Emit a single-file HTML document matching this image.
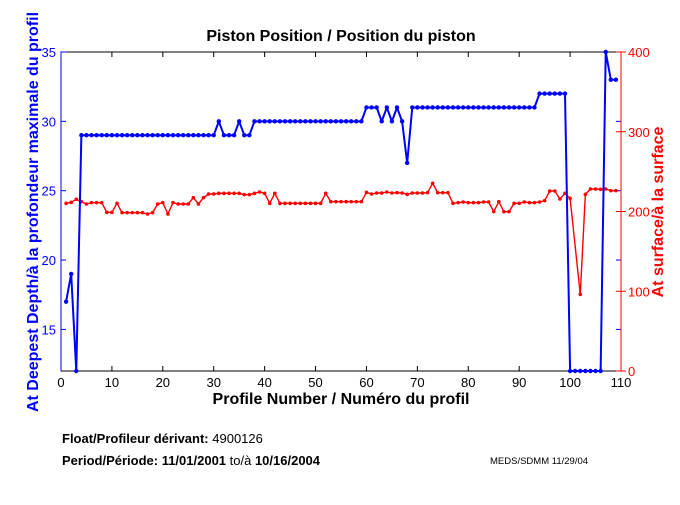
<!DOCTYPE html>
<html><head><meta charset="utf-8"><style>
body{margin:0;background:#fff;width:680px;height:500px;overflow:hidden}
svg text{font-family:"Liberation Sans",Arial,sans-serif}
</style></head><body>
<svg id="s" width="680" height="500" xmlns="http://www.w3.org/2000/svg">
<rect x="0" y="0" width="680" height="500" fill="#fff"/>
<rect x="61" y="52" width="560" height="319" fill="none" stroke="#000" stroke-width="1"/>
<g id="ticks"></g>
<g id="data"></g>
<text x="341" y="41" font-size="16" font-weight="bold" text-anchor="middle">Piston Position / Position du piston</text>
<text x="341" y="404" font-size="16" font-weight="bold" text-anchor="middle">Profile Number / Numéro du profil</text>
<text transform="translate(38,212) rotate(-90)" font-size="16" font-weight="bold" fill="#00f" text-anchor="middle">At Deepest Depth/à la profondeur maximale du profil</text>
<text transform="translate(663,212) rotate(-90)" font-size="16" font-weight="bold" fill="#f00" text-anchor="middle">At surface/à la surface</text>
<text x="62" y="443" font-size="13"><tspan font-weight="bold">Float/Profileur dérivant: </tspan> 4900126</text>
<text x="62" y="465" font-size="13" font-weight="bold">Period/Période:  11/01/2001  <tspan font-weight="normal">to/à</tspan>  10/16/2004</text>
<text x="490" y="464" font-size="9.5">MEDS/SDMM  11/29/04</text>
</svg>
<script>
var NS="http://www.w3.org/2000/svg";
function el(t,a,p){var e=document.createElementNS(NS,t);for(var k in a)e.setAttribute(k,a[k]);(p||document.getElementById('data')).appendChild(e);return e;}
var T=document.getElementById('ticks');
function X(p){return 61+p*560/110;}
function YL(v){return 371-(v-12)*319/23;}
function YR(v){return 371-v*319/400;}
for(var i=0;i<=110;i+=10){var x=X(i);
 el('line',{x1:x,y1:371,x2:x,y2:366,stroke:'#000'},T);el('line',{x1:x,y1:52,x2:x,y2:57,stroke:'#000'},T);
 el('text',{x:x,y:387,'font-size':13,'text-anchor':'middle'},T).textContent=i;}
for(var v=15;v<=35;v+=5){var y=YL(v);
 el('line',{x1:61,y1:y,x2:66,y2:y,stroke:'#00f'},T);el('line',{x1:621,y1:y,x2:616,y2:y,stroke:'#00f'},T);
 el('text',{x:56,y:y+5,'font-size':13,'text-anchor':'end',fill:'#00f'},T).textContent=v;}
el('line',{x1:61,y1:52,x2:61,y2:371,stroke:'#00f'},T);
el('line',{x1:621,y1:52,x2:621,y2:371,stroke:'#f00'},T);
for(var v=0;v<=400;v+=100){var y=YR(v);
 el('line',{x1:621,y1:y,x2:616,y2:y,stroke:'#f00'},T);el('line',{x1:621,y1:y,x2:626,y2:y,stroke:'#f00'},T);
 el('text',{x:628,y:y+5,'font-size':13,fill:'#f00'},T).textContent=v;}
var b=[17,19,12];for(i=4;i<=30;i++)b.push(29);b.push(30,29,29,29,30,29,29);
for(i=38;i<=59;i++)b.push(30);b.push(31,31,31,30,31,30,31,30,27);
for(i=69;i<=93;i++)b.push(31);for(i=94;i<=99;i++)b.push(32);for(i=100;i<=106;i++)b.push(12);b.push(35,33,33);
var r={1:520,2:517,3:508,4:515,5:522,6:518,7:518,8:518,9:547,10:547,11:520,12:548,13:548,14:548,15:548,16:548,17:552,18:548,19:522,20:518,21:552,22:518,23:522,24:522,25:522,26:503,27:522,28:503,29:492,30:492,31:490,32:490,33:490,34:490,35:490,36:494,37:494,38:490,39:486,40:490,41:520,42:490,43:520,44:520,45:520,46:520,47:520,48:520,49:520,50:520,51:520,52:490,53:515,54:515,55:515,56:515,57:515,58:515,59:515,60:487,61:492,62:489,63:489,64:486,65:489,66:488,67:489,68:493,69:489,70:489,71:489,72:488,73:460,74:488,75:488,76:488,77:520,78:518,79:516,80:518,81:518,82:518,83:516,84:516,85:545,86:515,87:545,88:545,89:520,90:520,91:516,92:518,93:518,94:516,95:512,96:483,97:483,98:507,99:490,100:505,102:793,103:493,104:477,105:477,106:478,107:477,108:482,109:482};
function draw(pts,c,w,rad){el('polyline',{points:pts.map(function(p){return p[0]+','+p[1]}).join(' '),fill:'none',stroke:c,'stroke-width':w,'stroke-linejoin':'round'});
 pts.forEach(function(p){el('circle',{cx:p[0],cy:p[1],r:rad,fill:c});});}
var rp=[];for(i=1;i<=109;i++){if(!(i in r))continue;rp.push([X(i),30+r[i]/3]);}
draw(rp,'#f00',1.4,1.8);
draw(b.map(function(v,k){return [X(k+1),YL(v)]}),'#00f',2,2.2);
</script>
</body></html>
